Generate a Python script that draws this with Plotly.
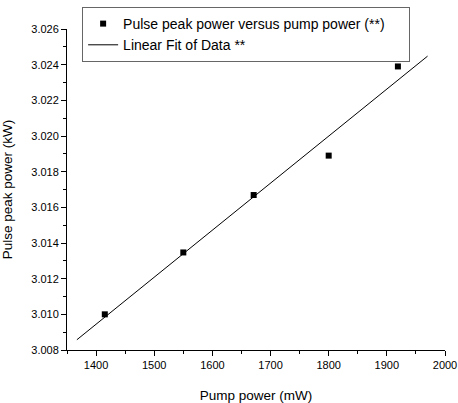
import numpy as np
import plotly.graph_objects as go

pump_power = [1415, 1550, 1671, 1800, 1919]
peak_power = [3.0100, 3.01347, 3.01669, 3.0189, 3.0239]
fit_x_range = [1367, 1970]

coef = np.polyfit(pump_power, peak_power, 1)
fit_y = list(np.polyval(coef, fit_x_range))

pad = "\u00a0" * 5
fig = go.Figure()
fig.add_trace(go.Scatter(
    x=pump_power, y=peak_power, mode="markers",
    marker=dict(symbol="square", size=6, color="black"),
    name="Pulse peak power versus pump power (**)" + pad))
fig.add_trace(go.Scatter(
    x=fit_x_range, y=fit_y, mode="lines",
    line=dict(color="black", width=1),
    name="Linear Fit of Data **"))

font = "Liberation Sans, Arial, sans-serif"
fig.update_layout(
    width=458, height=403,
    margin=dict(l=67, r=13, t=29, b=53, autoexpand=False),
    paper_bgcolor="white", plot_bgcolor="white",
    font=dict(family=font, color="black"),
    showlegend=True,
    legend=dict(x=0.04, y=1.0685, xanchor="left", yanchor="top",
                bgcolor="white", bordercolor="#666", borderwidth=1,
                font=dict(size=14, family=font), tracegroupgap=0,
                itemwidth=30),
    xaxis=dict(range=[1350, 2000], tick0=1400, dtick=100, automargin=False,
               showgrid=False, zeroline=False, showline=True,
               linecolor="black", linewidth=1,
               ticks="outside", ticklen=5, tickcolor="black",
               tickfont=dict(size=11),
               minor=dict(dtick=50, ticks="outside", ticklen=3, tickcolor="black"),
               title=dict(text="Pump power (mW)", font=dict(size=13.5), standoff=20)),
    yaxis=dict(range=[3.008, 3.026], tick0=3.008, dtick=0.002, tickformat=".3f",
               automargin=False,
               showgrid=False, zeroline=False, showline=True,
               linecolor="black", linewidth=1,
               ticks="outside", ticklen=5, tickcolor="black",
               tickfont=dict(size=11),
               minor=dict(dtick=0.001, ticks="outside", ticklen=3, tickcolor="black"),
               title=dict(text="Pulse peak power (kW)", font=dict(size=13.5), standoff=19)),
)

fig.write_html(
    "out.html",
    config={"displayModeBar": False},
    post_script="document.body.style.margin='0';document.documentElement.style.overflow='hidden';document.body.style.overflow='hidden';",
)
